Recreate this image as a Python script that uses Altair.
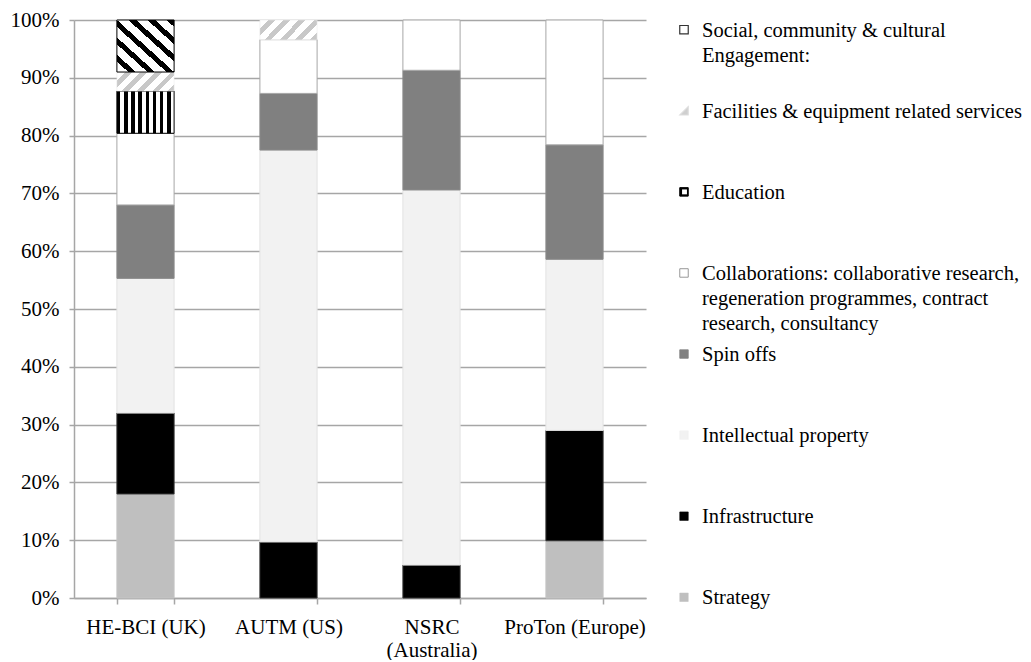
import altair as alt
import pandas as pd

# ---------------- data ----------------
frameworks = ["HE-BCI (UK)", "AUTM (US)", "NSRC\n(Australia)", "ProTon (Europe)"]

cat_keys = ["Strategy", "Infrastructure", "IP", "Spin", "Collab",
            "Education", "Facilities", "Social"]

legend_labels = {
    "Strategy": "Strategy",
    "Infrastructure": "Infrastructure",
    "IP": "Intellectual property",
    "Spin": "Spin offs",
    "Collab": "Collaborations: collaborative research,\nregeneration programmes, contract\nresearch, consultancy",
    "Education": "Education",
    "Facilities": "Facilities & equipment related services",
    "Social": "Social, community & cultural\nEngagement:",
}

strategy = [18.0, 0.0, 0.0, 9.9]
infrastructure = [14.0, 9.7, 5.7, 19.1]
intellectual_property = [23.3, 67.8, 64.9, 29.6]
spin_offs = [12.7, 9.8, 20.7, 19.8]
collaborations = [12.4, 9.3, 8.7, 21.6]
education = [7.3, 0.0, 0.0, 0.0]
facilities = [3.3, 3.4, 0.0, 0.0]
social = [9.0, 0.0, 0.0, 0.0]

series = [strategy, infrastructure, intellectual_property, spin_offs,
          collaborations, education, facilities, social]

rows = []
for k, (key, vals) in enumerate(zip(cat_keys, series)):
    for fw, v in zip(frameworks, vals):
        if v > 0:
            rows.append({"framework": fw, "cat": key, "value": v, "order": k})
df = pd.DataFrame(rows)

FONT = "Liberation Serif, Times New Roman, Times, serif"
GRID = "#a6a6a6"
FS = 21
LFS = 20.5


def stripes(c1, c2, n, frac):
    stops = []
    for i in range(n):
        a = i / n
        b = (i + frac) / n
        c = (i + 1) / n
        stops += [alt.GradientStop(color=c1, offset=a),
                  alt.GradientStop(color=c1, offset=b),
                  alt.GradientStop(color=c2, offset=b),
                  alt.GradientStop(color=c2, offset=c)]
    return stops


edu_fill = alt.Gradient(gradient="linear", stops=stripes("#000000", "#ffffff", 8, 0.5),
                        x1=0, y1=0, x2=1, y2=0)
fac_fill = alt.Gradient(gradient="linear", stops=stripes("#ffffff", "#c8c8c8", 5, 0.55),
                        x1=0, y1=0, x2=1.2, y2=0.4)
soc_fill = alt.Gradient(gradient="linear", stops=stripes("#ffffff", "#000000", 6, 0.6),
                        x1=0, y1=1, x2=1, y2=0)

base = alt.Chart(df).transform_stack(
    stack="value", groupby=["framework"], as_=["y0", "y1"],
    sort=[alt.SortField("order", order="ascending")]
)

x_enc = alt.X(
    "framework:N", sort=frameworks, title=None,
    scale=alt.Scale(paddingInner=0.6, paddingOuter=0.3),
    axis=alt.Axis(labelAngle=0, tickBand="extent", grid=False,
                  labelExpr="split(datum.label, '\\n')",
                  labelFont=FONT, labelFontSize=FS, labelColor="black",
                  labelLineHeight=23, labelPadding=12,
                  domainColor=GRID, domainWidth=1.5, tickColor=GRID,
                  tickWidth=1.5, tickSize=6),
)
y_enc = alt.Y(
    "y1:Q", title=None, scale=alt.Scale(domain=[0, 100], nice=False),
    axis=alt.Axis(values=list(range(0, 101, 10)), labelExpr="datum.value + '%'",
                  labelFont=FONT, labelFontSize=FS, labelColor="black",
                  labelPadding=10, tickSize=5, tickColor=GRID, tickWidth=1.5,
                  domainColor=GRID, domainWidth=1.5, gridColor=GRID, gridWidth=1.5),
)

solid_keys = ["Strategy", "Infrastructure", "IP", "Spin", "Collab"]
solid_fill = ["#bfbfbf", "#000000", "#f2f2f2", "#808080", "#ffffff"]
solid_stroke = ["#c4c4c4", "#333333", "#e2e2e2", "#8a8a8a", "#a6a6a6"]

solid = base.transform_filter(
    alt.FieldOneOfPredicate(field="cat", oneOf=solid_keys)
).mark_bar(strokeWidth=1).encode(
    x=x_enc, y=y_enc, y2="y0:Q",
    fill=alt.Fill("cat:N", scale=alt.Scale(domain=solid_keys, range=solid_fill), legend=None),
    stroke=alt.Stroke("cat:N", scale=alt.Scale(domain=solid_keys, range=solid_stroke), legend=None),
)

edu = base.transform_filter(alt.datum.cat == "Education").mark_bar(
    fill=edu_fill, stroke="#000000", strokeWidth=1
).encode(x=x_enc, y=y_enc, y2="y0:Q")

fac = base.transform_filter(alt.datum.cat == "Facilities").mark_bar(
    fill=fac_fill, stroke="#e8e8e8", strokeWidth=0.5
).encode(x=x_enc, y=y_enc, y2="y0:Q")

soc = base.transform_filter(alt.datum.cat == "Social").mark_bar(
    fill=soc_fill, stroke="#000000", strokeWidth=1
).encode(x=x_enc, y=y_enc, y2="y0:Q")

bars = alt.layer(solid, edu, fac, soc).properties(width=572, height=578)

# ---------------- legend ----------------
leg_order = cat_keys[::-1]
leg_df = pd.DataFrame({"lcat": leg_order, "label": [legend_labels[k] for k in leg_order]})

tri = "M1,-1L1,1L-1,1Z"
sym_fill = {"Social": "#ffffff", "Facilities": "#cfcfcf", "Education": "#000000",
            "Collab": "#ffffff", "Spin": "#808080", "IP": "#f2f2f2",
            "Infrastructure": "#000000", "Strategy": "#bfbfbf"}
sym_stroke = {"Social": "#333333", "Facilities": "#dddddd", "Education": "#000000",
              "Collab": "#8c8c8c", "Spin": "#808080", "IP": "#f2f2f2",
              "Infrastructure": "#000000", "Strategy": "#bfbfbf"}
sym_sw = {"Social": 1.2, "Facilities": 0.5, "Education": 1, "Collab": 1,
          "Spin": 0.5, "IP": 0.5, "Infrastructure": 0.5, "Strategy": 0.5}
sym_shape = {k: ("square" if k != "Facilities" else tri) for k in leg_order}

y_leg = alt.Y("lcat:N", sort=leg_order, axis=None,
              scale=alt.Scale(type="point", domain=leg_order, padding=0.12))

symbols = alt.Chart(leg_df).mark_point(filled=True, opacity=1, size=72).encode(
    x=alt.value(12), y=y_leg,
    fill=alt.Fill("lcat:N", scale=alt.Scale(domain=leg_order, range=[sym_fill[k] for k in leg_order]), legend=None),
    stroke=alt.Stroke("lcat:N", scale=alt.Scale(domain=leg_order, range=[sym_stroke[k] for k in leg_order]), legend=None),
    strokeWidth=alt.StrokeWidth("lcat:N", scale=alt.Scale(domain=leg_order, range=[sym_sw[k] for k in leg_order]), legend=None),
    shape=alt.Shape("lcat:N", scale=alt.Scale(domain=leg_order, range=[sym_shape[k] for k in leg_order]), legend=None),
)

edu_inner = alt.Chart(leg_df).transform_filter(alt.datum.lcat == "Education").mark_point(
    filled=True, opacity=1, size=24, shape="square", fill="#ffffff", stroke=None
).encode(x=alt.value(12.5), y=y_leg)

texts = alt.Chart(leg_df).mark_text(
    align="left", baseline="top", dy=-9, font=FONT, fontSize=LFS,
    lineBreak="\n", lineHeight=25, color="black"
).encode(x=alt.value(30), y=y_leg, text="label:N")

legend = alt.layer(symbols, edu_inner, texts).properties(width=349, height=587)

chart = alt.hconcat(bars, legend, spacing=26).resolve_scale(
    fill="independent", stroke="independent", strokeWidth="independent",
    shape="independent", y="independent"
).properties(
    padding={"left": 2, "top": 1, "right": 0, "bottom": 0}
).configure(background="white").configure_view(stroke=None)

chart.save("out.html", embed_options={"renderer": "svg", "actions": False})
